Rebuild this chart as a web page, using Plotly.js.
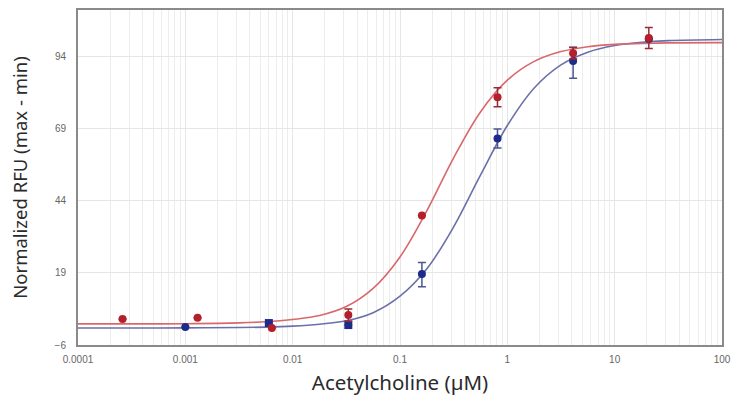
<!DOCTYPE html>
<html>
<head>
<meta charset="utf-8">
<script src="https://cdn.plot.ly/plotly-3.0.1.min.js"></script>
<style>html,body{margin:0;padding:0;background:#fff;}#chart{width:731px;height:400px;}</style>
</head>
<body>
<div id="chart"></div>
<script>
// Measured points (concentration in µM, normalized RFU)
const redX = [0.00026, 0.0013, 0.0064, 0.033, 0.16, 0.81, 4.1, 20.8];
const redY = [3.0, 3.4, -0.1, 4.4, 38.8, 79.8, 95.0, 100.3];
const redErr = [0, 0, 0, 2.1, 0, 3.3, 2.0, 3.6];

const blueX = [0.001, 0.006, 0.033, 0.16, 0.81, 4.1, 20.8];
const blueY = [0.25, 1.6, 0.9, 18.6, 65.5, 92.3, 100.0];
const blueErrPlus = [0, 0, 0, 4.0, 3.3, 4.8, 0];
const blueErrMinus = [0, 0, 0, 4.4, 3.3, 5.9, 0];
const blueSymbols = ['circle', 'square', 'square', 'circle', 'circle', 'circle', 'circle'];

// Fitted curves
const curveX = [0.0001, 0.000316, 0.001, 0.00316, 0.00562, 0.01, 0.0178, 0.0316, 0.0562, 0.1, 0.178, 0.316, 0.562, 1, 1.78, 3.16, 5.62, 10, 17.8, 31.6, 100];
const redCurveY = [1.3, 1.3, 1.38, 1.65, 2.03, 2.84, 4.2, 7.3, 13.6, 24.5, 40.5, 58.8, 74.7, 85.7, 92.2, 95.6, 97.3, 98.1, 98.4, 98.6, 98.7];
const blueCurveY = [-0.1, -0.1, -0.07, 0.05, 0.2, 0.54, 1.2, 2.4, 5.2, 10.9, 20.4, 34.9, 52.8, 70.0, 83.0, 91.0, 95.4, 97.7, 98.8, 99.4, 99.8];

const xTickVals = [0.0001, 0.001, 0.01, 0.1, 1, 10, 100];
const xTickText = ['0.0001', '0.001', '0.01', '0.1', '1', '10', '100'];
const yTickVals = [-6, 19, 44, 69, 94];

const RED = '#b41f2c';
const BLUE = '#1d2b8a';

const traces = [
  {x: curveX, y: blueCurveY, mode: 'lines', line: {color: '#6b70a8', width: 1.6, shape: 'spline'}, hoverinfo: 'skip'},
  {x: curveX, y: redCurveY, mode: 'lines', line: {color: '#d9686c', width: 1.6, shape: 'spline'}, hoverinfo: 'skip'},
  {x: blueX, y: blueY, mode: 'markers',
   marker: {color: BLUE, size: 8, symbol: blueSymbols},
   error_y: {type: 'data', symmetric: false, array: blueErrPlus, arrayminus: blueErrMinus, color: '#4d5690', thickness: 1.5, width: 4}},
  {x: redX, y: redY, mode: 'markers',
   marker: {color: RED, size: 8, symbol: 'circle'},
   error_y: {type: 'data', array: redErr, color: '#9a2a36', thickness: 1.5, width: 4}}
];

const layout = {
  width: 731, height: 400,
  margin: {l: 78, r: 9, t: 10, b: 55},
  paper_bgcolor: '#ffffff', plot_bgcolor: '#ffffff',
  showlegend: false,
  xaxis: {
    type: 'log', range: [-4, 2],
    tickvals: xTickVals, ticktext: xTickText,
    ticks: 'outside', ticklen: 4, tickcolor: 'rgba(0,0,0,0)',
    tickfont: {family: 'Liberation Sans Narrow, Liberation Sans, sans-serif', size: 10, color: '#666'},
    showgrid: true, gridcolor: '#e6e6e6', gridwidth: 1,
    minor: {dtick: 'D1', showgrid: true, gridcolor: '#ededed', gridwidth: 1},
    showline: true, mirror: true, linecolor: '#8a8a8a', linewidth: 2,
    zeroline: false,
    title: {text: 'Acetylcholine (µM)', font: {family: 'Noto Sans, sans-serif', size: 20.5, color: '#2b2b2b'}, standoff: 12}
  },
  yaxis: {
    range: [-6, 110],
    tickvals: yTickVals,
    ticks: 'outside', ticklen: 8, tickcolor: 'rgba(0,0,0,0)',
    tickfont: {family: 'Liberation Sans Narrow, Liberation Sans, sans-serif', size: 10, color: '#666'},
    showgrid: true, gridcolor: '#e6e6e6', gridwidth: 1,
    showline: true, mirror: true, linecolor: '#8a8a8a', linewidth: 2,
    zeroline: false,
    title: {text: 'Normalized RFU (max - min)', font: {family: 'Noto Sans, sans-serif', size: 18.5, color: '#2b2b2b'}, standoff: 22}
  }
};

Plotly.newPlot('chart', traces, layout, {staticPlot: true, displayModeBar: false});
</script>
</body>
</html>
